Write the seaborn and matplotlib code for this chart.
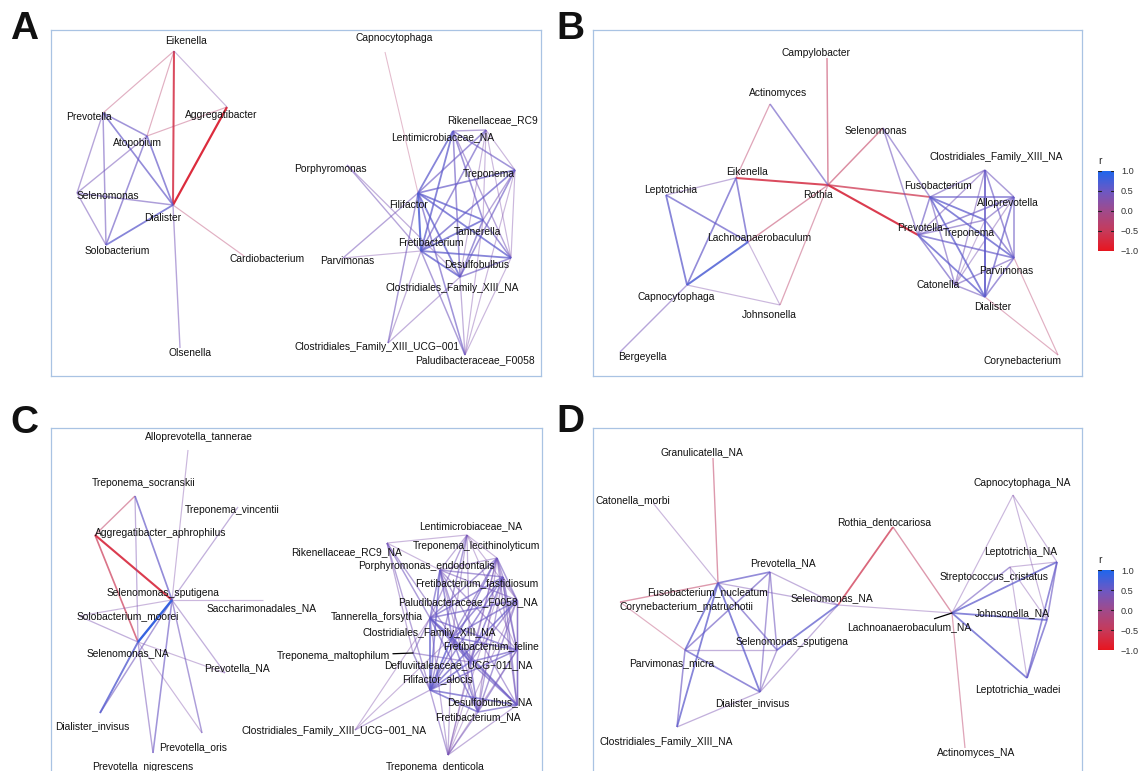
import numpy as np
import pandas as pd
import matplotlib
matplotlib.use("Agg")
import matplotlib.pyplot as plt
import seaborn as sns
from matplotlib.colors import LinearSegmentedColormap, ListedColormap, Normalize
from matplotlib.colorbar import ColorbarBase

# ---------------- Panel A : genus-level network ----------------
A_NODES = ["Eikenella", "Prevotella", "Aggregatibacter", "Atopobium", "Selenomonas", "Dialister",
           "Solobacterium", "Cardiobacterium", "Olsenella", "Capnocytophaga", "Rikenellaceae_RC9",
           "Lentimicrobiaceae_NA", "Porphyromonas", "Treponema", "Filifactor", "Tannerella",
           "Fretibacterium", "Parvimonas", "Desulfobulbus", "Clostridiales_Family_XIII_NA",
           "Clostridiales_Family_XIII_UCG\u2212001", "Paludibacteraceae_F0058"]
A_X = [123, 52, 176, 96, 26, 122, 55, 193, 129, 334, 435, 402, 296, 464, 367, 432, 370, 292, 460, 409, 337, 414]
A_Y = [21, 83, 77, 106, 163, 175, 215, 226, 318, 22, 100, 101, 135, 140, 163, 190, 221, 228, 228, 247, 313, 325]
A_LABEL_X = [135, 38, 170, 86, 57, 112, 66, 216, 139, 343, 441, 392, 279, 438, 357, 426, 380, 296, 426, 401, 326, 424]
A_LABEL_Y = [11, 87, 85, 113, 166, 188, 221, 229, 323, 8, 90, 107, 139, 144, 175, 202, 213, 231, 235, 258, 317, 330]
A_EDGES = [
    ("Eikenella", "Prevotella", -0.3), ("Eikenella", "Atopobium", -0.3), ("Eikenella", "Dialister", -0.7),
    ("Eikenella", "Aggregatibacter", 0.3), ("Aggregatibacter", "Atopobium", -0.3),
    ("Aggregatibacter", "Dialister", -0.8), ("Prevotella", "Atopobium", 0.5), ("Prevotella", "Dialister", 0.55),
    ("Prevotella", "Selenomonas", 0.4), ("Prevotella", "Solobacterium", 0.45), ("Atopobium", "Selenomonas", 0.4),
    ("Atopobium", "Solobacterium", 0.5), ("Atopobium", "Dialister", 0.55), ("Selenomonas", "Dialister", 0.45),
    ("Selenomonas", "Solobacterium", 0.4), ("Solobacterium", "Dialister", 0.6),
    ("Dialister", "Cardiobacterium", -0.3), ("Dialister", "Olsenella", 0.4),
    ("Capnocytophaga", "Filifactor", -0.25), ("Porphyromonas", "Fretibacterium", 0.4),
    ("Porphyromonas", "Clostridiales_Family_XIII_NA", 0.35),
    ("Parvimonas", "Filifactor", 0.4), ("Parvimonas", "Fretibacterium", 0.3),
    ("Filifactor", "Lentimicrobiaceae_NA", 0.6), ("Filifactor", "Rikenellaceae_RC9", 0.5),
    ("Filifactor", "Treponema", 0.55), ("Filifactor", "Tannerella", 0.6), ("Filifactor", "Fretibacterium", 0.7),
    ("Filifactor", "Desulfobulbus", 0.6), ("Filifactor", "Clostridiales_Family_XIII_NA", 0.6),
    ("Filifactor", "Clostridiales_Family_XIII_UCG\u2212001", 0.45), ("Filifactor", "Paludibacteraceae_F0058", 0.5),
    ("Fretibacterium", "Lentimicrobiaceae_NA", 0.6), ("Fretibacterium", "Rikenellaceae_RC9", 0.5),
    ("Fretibacterium", "Treponema", 0.55), ("Fretibacterium", "Tannerella", 0.6),
    ("Fretibacterium", "Desulfobulbus", 0.6), ("Fretibacterium", "Clostridiales_Family_XIII_NA", 0.6),
    ("Fretibacterium", "Clostridiales_Family_XIII_UCG\u2212001", 0.35),
    ("Fretibacterium", "Paludibacteraceae_F0058", 0.45),
    ("Lentimicrobiaceae_NA", "Treponema", 0.5), ("Lentimicrobiaceae_NA", "Tannerella", 0.5),
    ("Lentimicrobiaceae_NA", "Desulfobulbus", 0.4), ("Lentimicrobiaceae_NA", "Clostridiales_Family_XIII_NA", 0.5),
    ("Lentimicrobiaceae_NA", "Rikenellaceae_RC9", 0.4),
    ("Rikenellaceae_RC9", "Treponema", 0.3), ("Rikenellaceae_RC9", "Tannerella", 0.3),
    ("Rikenellaceae_RC9", "Desulfobulbus", 0.3), ("Rikenellaceae_RC9", "Clostridiales_Family_XIII_NA", 0.3),
    ("Treponema", "Tannerella", 0.4), ("Treponema", "Desulfobulbus", 0.3),
    ("Treponema", "Clostridiales_Family_XIII_NA", 0.5), ("Treponema", "Paludibacteraceae_F0058", 0.3),
    ("Tannerella", "Desulfobulbus", 0.5), ("Tannerella", "Clostridiales_Family_XIII_NA", 0.5),
    ("Tannerella", "Paludibacteraceae_F0058", 0.3), ("Desulfobulbus", "Clostridiales_Family_XIII_NA", 0.5),
    ("Desulfobulbus", "Paludibacteraceae_F0058", 0.3),
    ("Clostridiales_Family_XIII_NA", "Clostridiales_Family_XIII_UCG\u2212001", 0.35),
    ("Clostridiales_Family_XIII_NA", "Paludibacteraceae_F0058", 0.35),
]

# ---------------- Panel B : genus-level network ----------------
B_NODES = ["Campylobacter", "Actinomyces", "Selenomonas", "Eikenella", "Leptotrichia", "Rothia",
           "Lachnoanaerobaculum", "Capnocytophaga", "Johnsonella", "Bergeyella",
           "Clostridiales_Family_XIII_NA", "Fusobacterium", "Alloprevotella", "Prevotella", "Treponema",
           "Catonella", "Parvimonas", "Dialister", "Corynebacterium"]
B_X = [234, 177, 290, 143, 73, 235, 155, 94, 187, 27, 392, 337, 421, 325, 392, 362, 421, 392, 465]
B_Y = [28, 74, 98, 148, 165, 155, 212, 255, 275, 322, 140, 167, 167, 205, 190, 255, 228, 267, 325]
B_LABEL_X = [223, 185, 283, 154, 78, 225, 166, 83, 176, 49, 403, 345, 415, 327, 376, 345, 413, 400, 429]
B_LABEL_Y = [23, 63, 101, 142, 160, 165, 208, 267, 285, 327, 127, 156, 173, 198, 203, 255, 241, 277, 331]
B_EDGES = [
    ("Campylobacter", "Rothia", -0.45), ("Actinomyces", "Eikenella", -0.35), ("Actinomyces", "Rothia", 0.5),
    ("Selenomonas", "Rothia", -0.45), ("Eikenella", "Rothia", -0.7), ("Eikenella", "Leptotrichia", 0.35),
    ("Eikenella", "Capnocytophaga", 0.55), ("Eikenella", "Lachnoanaerobaculum", 0.55),
    ("Leptotrichia", "Lachnoanaerobaculum", 0.55), ("Leptotrichia", "Capnocytophaga", 0.6),
    ("Lachnoanaerobaculum", "Capnocytophaga", 0.7), ("Lachnoanaerobaculum", "Rothia", -0.4),
    ("Lachnoanaerobaculum", "Johnsonella", 0.3), ("Capnocytophaga", "Johnsonella", 0.3),
    ("Capnocytophaga", "Bergeyella", 0.4), ("Johnsonella", "Rothia", -0.35),
    ("Rothia", "Fusobacterium", -0.6), ("Rothia", "Prevotella", -0.75),
    ("Selenomonas", "Fusobacterium", 0.45), ("Selenomonas", "Prevotella", 0.45),
    ("Clostridiales_Family_XIII_NA", "Fusobacterium", 0.45), ("Clostridiales_Family_XIII_NA", "Alloprevotella", 0.45),
    ("Clostridiales_Family_XIII_NA", "Prevotella", 0.4), ("Clostridiales_Family_XIII_NA", "Treponema", 0.5),
    ("Clostridiales_Family_XIII_NA", "Catonella", 0.4), ("Clostridiales_Family_XIII_NA", "Parvimonas", 0.5),
    ("Clostridiales_Family_XIII_NA", "Dialister", 0.55),
    ("Fusobacterium", "Alloprevotella", 0.55), ("Fusobacterium", "Prevotella", 0.5),
    ("Fusobacterium", "Treponema", 0.6), ("Fusobacterium", "Catonella", 0.45),
    ("Fusobacterium", "Parvimonas", 0.6), ("Fusobacterium", "Dialister", 0.6),
    ("Alloprevotella", "Prevotella", 0.5), ("Alloprevotella", "Treponema", 0.45),
    ("Alloprevotella", "Catonella", 0.35), ("Alloprevotella", "Parvimonas", 0.5), ("Alloprevotella", "Dialister", 0.55),
    ("Prevotella", "Treponema", 0.45), ("Prevotella", "Catonella", 0.5), ("Prevotella", "Parvimonas", 0.55),
    ("Prevotella", "Dialister", 0.6), ("Treponema", "Catonella", 0.3), ("Treponema", "Parvimonas", 0.5),
    ("Treponema", "Dialister", 0.6), ("Catonella", "Parvimonas", 0.45), ("Catonella", "Dialister", 0.45),
    ("Parvimonas", "Dialister", 0.5), ("Corynebacterium", "Dialister", -0.3), ("Corynebacterium", "Parvimonas", -0.3),
]

# ---------------- Panel C : species-level network ----------------
C_NODES = ["Alloprevotella_tannerae", "Treponema_socranskii", "Treponema_vincentii",
           "Aggregatibacter_aphrophilus", "Selenomonas_sputigena", "Saccharimonadales_NA",
           "Solobacterium_moorei", "Selenomonas_NA", "Prevotella_NA", "Dialister_invisus", "Prevotella_oris",
           "Prevotella_nigrescens", "Lentimicrobiaceae_NA", "Treponema_lecithinolyticum", "Rikenellaceae_RC9_NA",
           "Porphyromonas_endodontalis", "Fretibacterium_fastidiosum", "Paludibacteraceae_F0058_NA",
           "Tannerella_forsythia", "Clostridiales_Family_XIII_NA", "Fretibacterium_feline",
           "Treponema_maltophilum", "Defluviitaleaceae_UCG\u2212011_NA", "Filifactor_alocis", "Desulfobulbus_NA",
           "Fretibacterium_NA", "Clostridiales_Family_XIII_UCG\u2212001_NA", "Treponema_denticola"]
C_X = [137, 84, 187, 44, 121, 212, 28, 87, 174, 49, 151, 102,
       416, 446, 336, 389, 452, 466, 379, 401, 466, 362, 419, 379, 466, 427, 304, 397]
C_Y = [22, 68, 79, 107, 172, 172, 188, 214, 245, 285, 305, 325,
       107, 130, 115, 142, 149, 172, 190, 209, 222, 225, 234, 262, 277, 284, 302, 327]
C_LABEL_X = [148, 93, 181, 110, 112, 211, 77, 77, 186, 41, 142, 92,
             420, 425, 296, 375, 426, 417, 326, 378, 440, 282, 407, 387, 439, 427, 283, 384]
C_LABEL_Y = [9, 55, 82, 105, 165, 180, 188, 225, 240, 298, 319, 339,
             98, 118, 124, 138, 155, 174, 189, 205, 218, 228, 237, 251, 274, 289, 303, 339]
C_LINKED = ["Treponema_maltophilum"]
C_EDGES = [
    ("Alloprevotella_tannerae", "Selenomonas_sputigena", 0.3),
    ("Treponema_socranskii", "Aggregatibacter_aphrophilus", -0.4),
    ("Treponema_socranskii", "Selenomonas_sputigena", 0.55), ("Treponema_socranskii", "Selenomonas_NA", 0.35),
    ("Treponema_vincentii", "Selenomonas_sputigena", 0.35),
    ("Aggregatibacter_aphrophilus", "Selenomonas_sputigena", -0.75),
    ("Aggregatibacter_aphrophilus", "Selenomonas_NA", -0.55),
    ("Selenomonas_sputigena", "Saccharimonadales_NA", 0.3), ("Selenomonas_sputigena", "Solobacterium_moorei", 0.3),
    ("Selenomonas_sputigena", "Selenomonas_NA", 0.85), ("Selenomonas_sputigena", "Prevotella_NA", 0.35),
    ("Selenomonas_sputigena", "Dialister_invisus", 0.45), ("Selenomonas_sputigena", "Prevotella_oris", 0.45),
    ("Selenomonas_sputigena", "Prevotella_nigrescens", 0.5), ("Solobacterium_moorei", "Selenomonas_NA", 0.35),
    ("Selenomonas_NA", "Prevotella_NA", 0.3), ("Selenomonas_NA", "Dialister_invisus", 0.65),
    ("Selenomonas_NA", "Prevotella_oris", 0.3), ("Selenomonas_NA", "Prevotella_nigrescens", 0.4),
    ("Rikenellaceae_RC9_NA", "Lentimicrobiaceae_NA", 0.3), ("Rikenellaceae_RC9_NA", "Tannerella_forsythia", 0.45),
    ("Rikenellaceae_RC9_NA", "Filifactor_alocis", 0.4), ("Rikenellaceae_RC9_NA", "Clostridiales_Family_XIII_NA", 0.4),
    ("Rikenellaceae_RC9_NA", "Treponema_maltophilum", 0.35), ("Rikenellaceae_RC9_NA", "Porphyromonas_endodontalis", 0.3),
    ("Lentimicrobiaceae_NA", "Treponema_lecithinolyticum", 0.3),
    ("Lentimicrobiaceae_NA", "Porphyromonas_endodontalis", 0.35), ("Lentimicrobiaceae_NA", "Tannerella_forsythia", 0.4),
    ("Lentimicrobiaceae_NA", "Filifactor_alocis", 0.45), ("Lentimicrobiaceae_NA", "Clostridiales_Family_XIII_NA", 0.35),
    ("Lentimicrobiaceae_NA", "Defluviitaleaceae_UCG\u2212011_NA", 0.35),
    ("Lentimicrobiaceae_NA", "Fretibacterium_feline", 0.3), ("Lentimicrobiaceae_NA", "Paludibacteraceae_F0058_NA", 0.3),
    ("Treponema_lecithinolyticum", "Fretibacterium_fastidiosum", 0.4),
    ("Treponema_lecithinolyticum", "Paludibacteraceae_F0058_NA", 0.45),
    ("Treponema_lecithinolyticum", "Tannerella_forsythia", 0.45),
    ("Treponema_lecithinolyticum", "Filifactor_alocis", 0.5),
    ("Treponema_lecithinolyticum", "Clostridiales_Family_XIII_NA", 0.45),
    ("Treponema_lecithinolyticum", "Fretibacterium_feline", 0.4),
    ("Treponema_lecithinolyticum", "Defluviitaleaceae_UCG\u2212011_NA", 0.4),
    ("Treponema_lecithinolyticum", "Desulfobulbus_NA", 0.4), ("Treponema_lecithinolyticum", "Fretibacterium_NA", 0.35),
    ("Treponema_lecithinolyticum", "Treponema_denticola", 0.3),
    ("Treponema_lecithinolyticum", "Porphyromonas_endodontalis", 0.35),
    ("Fretibacterium_fastidiosum", "Paludibacteraceae_F0058_NA", 0.4),
    ("Fretibacterium_fastidiosum", "Tannerella_forsythia", 0.5), ("Fretibacterium_fastidiosum", "Filifactor_alocis", 0.5),
    ("Fretibacterium_fastidiosum", "Clostridiales_Family_XIII_NA", 0.5),
    ("Fretibacterium_fastidiosum", "Fretibacterium_feline", 0.45),
    ("Fretibacterium_fastidiosum", "Defluviitaleaceae_UCG\u2212011_NA", 0.5),
    ("Fretibacterium_fastidiosum", "Desulfobulbus_NA", 0.45), ("Fretibacterium_fastidiosum", "Fretibacterium_NA", 0.4),
    ("Fretibacterium_fastidiosum", "Treponema_denticola", 0.3),
    ("Fretibacterium_fastidiosum", "Porphyromonas_endodontalis", 0.45),
    ("Paludibacteraceae_F0058_NA", "Tannerella_forsythia", 0.5), ("Paludibacteraceae_F0058_NA", "Filifactor_alocis", 0.55),
    ("Paludibacteraceae_F0058_NA", "Clostridiales_Family_XIII_NA", 0.5),
    ("Paludibacteraceae_F0058_NA", "Fretibacterium_feline", 0.4),
    ("Paludibacteraceae_F0058_NA", "Defluviitaleaceae_UCG\u2212011_NA", 0.45),
    ("Paludibacteraceae_F0058_NA", "Desulfobulbus_NA", 0.45), ("Paludibacteraceae_F0058_NA", "Fretibacterium_NA", 0.45),
    ("Paludibacteraceae_F0058_NA", "Treponema_denticola", 0.3),
    ("Paludibacteraceae_F0058_NA", "Porphyromonas_endodontalis", 0.4),
    ("Porphyromonas_endodontalis", "Tannerella_forsythia", 0.5), ("Porphyromonas_endodontalis", "Filifactor_alocis", 0.55),
    ("Porphyromonas_endodontalis", "Clostridiales_Family_XIII_NA", 0.5),
    ("Porphyromonas_endodontalis", "Defluviitaleaceae_UCG\u2212011_NA", 0.45),
    ("Porphyromonas_endodontalis", "Fretibacterium_feline", 0.4),
    ("Porphyromonas_endodontalis", "Desulfobulbus_NA", 0.4), ("Porphyromonas_endodontalis", "Fretibacterium_NA", 0.35),
    ("Tannerella_forsythia", "Clostridiales_Family_XIII_NA", 0.55), ("Tannerella_forsythia", "Filifactor_alocis", 0.6),
    ("Tannerella_forsythia", "Defluviitaleaceae_UCG\u2212011_NA", 0.5), ("Tannerella_forsythia", "Fretibacterium_feline", 0.5),
    ("Tannerella_forsythia", "Desulfobulbus_NA", 0.5), ("Tannerella_forsythia", "Fretibacterium_NA", 0.5),
    ("Tannerella_forsythia", "Treponema_maltophilum", 0.4), ("Tannerella_forsythia", "Treponema_denticola", 0.35),
    ("Tannerella_forsythia", "Clostridiales_Family_XIII_UCG\u2212001_NA", 0.3),
    ("Clostridiales_Family_XIII_NA", "Filifactor_alocis", 0.6),
    ("Clostridiales_Family_XIII_NA", "Defluviitaleaceae_UCG\u2212011_NA", 0.55),
    ("Clostridiales_Family_XIII_NA", "Fretibacterium_feline", 0.5),
    ("Clostridiales_Family_XIII_NA", "Desulfobulbus_NA", 0.5), ("Clostridiales_Family_XIII_NA", "Fretibacterium_NA", 0.5),
    ("Clostridiales_Family_XIII_NA", "Treponema_denticola", 0.35),
    ("Clostridiales_Family_XIII_NA", "Clostridiales_Family_XIII_UCG\u2212001_NA", 0.3),
    ("Fretibacterium_feline", "Defluviitaleaceae_UCG\u2212011_NA", 0.5), ("Fretibacterium_feline", "Filifactor_alocis", 0.5),
    ("Fretibacterium_feline", "Desulfobulbus_NA", 0.45), ("Fretibacterium_feline", "Fretibacterium_NA", 0.45),
    ("Fretibacterium_feline", "Treponema_denticola", 0.3),
    ("Treponema_maltophilum", "Filifactor_alocis", 0.45),
    ("Treponema_maltophilum", "Defluviitaleaceae_UCG\u2212011_NA", 0.4),
    ("Defluviitaleaceae_UCG\u2212011_NA", "Filifactor_alocis", 0.55),
    ("Defluviitaleaceae_UCG\u2212011_NA", "Desulfobulbus_NA", 0.5),
    ("Defluviitaleaceae_UCG\u2212011_NA", "Fretibacterium_NA", 0.5),
    ("Defluviitaleaceae_UCG\u2212011_NA", "Treponema_denticola", 0.35),
    ("Filifactor_alocis", "Desulfobulbus_NA", 0.55), ("Filifactor_alocis", "Fretibacterium_NA", 0.55),
    ("Filifactor_alocis", "Treponema_denticola", 0.4), ("Filifactor_alocis", "Clostridiales_Family_XIII_UCG\u2212001_NA", 0.35),
    ("Desulfobulbus_NA", "Fretibacterium_NA", 0.5), ("Desulfobulbus_NA", "Treponema_denticola", 0.35),
    ("Fretibacterium_NA", "Treponema_denticola", 0.4),
]

# ---------------- Panel D : species-level network ----------------
D_NODES = ["Granulicatella_NA", "Catonella_morbi", "Prevotella_NA", "Fusobacterium_nucleatum",
           "Corynebacterium_matruchotii", "Selenomonas_NA", "Rothia_dentocariosa", "Selenomonas_sputigena",
           "Parvimonas_micra", "Dialister_invisus", "Clostridiales_Family_XIII_NA", "Capnocytophaga_NA",
           "Leptotrichia_NA", "Streptococcus_cristatus", "Johnsonella_NA", "Lachnoanaerobaculum_NA",
           "Leptotrichia_wadei", "Actinomyces_NA"]
D_X = [120, 60, 177, 125, 27, 245, 300, 184, 92, 167, 84, 420, 464, 417, 454, 359, 434, 372]
D_Y = [30, 75, 144, 155, 174, 177, 99, 222, 222, 264, 299, 67, 134, 139, 192, 185, 250, 320]
D_LABEL_X = [109, 40, 190, 115, 93, 239, 291, 199, 79, 159, 73, 429, 428, 401, 419, 316, 425, 383]
D_LABEL_Y = [24, 72, 135, 164, 179, 170, 94, 214, 235, 275, 314, 55, 124, 149, 185, 199, 262, 325]
D_LINKED = ["Lachnoanaerobaculum_NA"]
D_EDGES = [
    ("Granulicatella_NA", "Fusobacterium_nucleatum", -0.4), ("Catonella_morbi", "Fusobacterium_nucleatum", 0.3),
    ("Fusobacterium_nucleatum", "Prevotella_NA", 0.55), ("Fusobacterium_nucleatum", "Corynebacterium_matruchotii", -0.4),
    ("Fusobacterium_nucleatum", "Selenomonas_NA", 0.35), ("Fusobacterium_nucleatum", "Parvimonas_micra", 0.6),
    ("Fusobacterium_nucleatum", "Dialister_invisus", 0.6), ("Fusobacterium_nucleatum", "Selenomonas_sputigena", 0.5),
    ("Fusobacterium_nucleatum", "Clostridiales_Family_XIII_NA", 0.6),
    ("Prevotella_NA", "Parvimonas_micra", 0.5), ("Prevotella_NA", "Selenomonas_sputigena", 0.45),
    ("Prevotella_NA", "Dialister_invisus", 0.45), ("Prevotella_NA", "Selenomonas_NA", 0.35),
    ("Corynebacterium_matruchotii", "Parvimonas_micra", -0.3), ("Parvimonas_micra", "Selenomonas_sputigena", 0.35),
    ("Parvimonas_micra", "Dialister_invisus", 0.55), ("Parvimonas_micra", "Clostridiales_Family_XIII_NA", 0.5),
    ("Selenomonas_NA", "Selenomonas_sputigena", 0.6), ("Selenomonas_NA", "Dialister_invisus", 0.35),
    ("Selenomonas_sputigena", "Dialister_invisus", 0.4), ("Dialister_invisus", "Clostridiales_Family_XIII_NA", 0.35),
    ("Selenomonas_NA", "Rothia_dentocariosa", -0.6), ("Selenomonas_NA", "Lachnoanaerobaculum_NA", 0.3),
    ("Rothia_dentocariosa", "Lachnoanaerobaculum_NA", -0.4), ("Lachnoanaerobaculum_NA", "Actinomyces_NA", -0.35),
    ("Lachnoanaerobaculum_NA", "Capnocytophaga_NA", 0.3), ("Lachnoanaerobaculum_NA", "Streptococcus_cristatus", 0.45),
    ("Lachnoanaerobaculum_NA", "Leptotrichia_NA", 0.6), ("Lachnoanaerobaculum_NA", "Johnsonella_NA", 0.6),
    ("Lachnoanaerobaculum_NA", "Leptotrichia_wadei", 0.6), ("Capnocytophaga_NA", "Leptotrichia_NA", 0.3),
    ("Capnocytophaga_NA", "Johnsonella_NA", 0.3), ("Streptococcus_cristatus", "Leptotrichia_NA", 0.3),
    ("Streptococcus_cristatus", "Johnsonella_NA", 0.3), ("Streptococcus_cristatus", "Leptotrichia_wadei", 0.3),
    ("Leptotrichia_NA", "Johnsonella_NA", 0.5), ("Leptotrichia_NA", "Leptotrichia_wadei", 0.55),
    ("Johnsonella_NA", "Leptotrichia_wadei", 0.55),
]

# ---------------- styling ----------------
sns.set_style("white")
plt.rcParams["font.family"] = ["Liberation Sans", "DejaVu Sans"]

W_PX, H_PX = 1147, 771
LABEL_SIZE = 7.4
BOX_COLOR = "#a9c3e3"

# correlation colour scale (red = negative, blue = positive)
r_cmap = LinearSegmentedColormap.from_list(
    "r_scale", ["#E8151F", "#C63A5A", "#A04A8B", "#6C58C4", "#1F66EC"])
_vals = np.linspace(-1, 1, 256)
_rgba = r_cmap((_vals + 1) / 2)
_rgba[:, 3] = np.clip(0.08 + 1.1 * np.abs(_vals), 0, 1)   # weaker correlations fade out
edge_cmap = ListedColormap(_rgba)

fig = plt.figure(figsize=(W_PX / 100, H_PX / 100), dpi=100)


def panel_axes(left, top, width, height):
    ax = fig.add_axes([left / W_PX, 1 - (top + height) / H_PX, width / W_PX, height / H_PX])
    ax.set_xlim(0, width)
    ax.set_ylim(height, 0)
    return ax


def draw_network(ax, names, xs, ys, lxs, lys, edges, linked=()):
    pos = {n: (x, y) for n, x, y in zip(names, xs, ys)}
    rows = []
    for i, (a, b, r) in enumerate(edges):
        for n in (a, b):
            rows.append({"edge": i, "x": pos[n][0], "y": pos[n][1], "r": r, "strength": abs(r)})
    df = pd.DataFrame(rows)
    sns.lineplot(data=df, x="x", y="y", units="edge", estimator=None, sort=False,
                 hue="r", hue_norm=(-1, 1), palette=edge_cmap,
                 size="strength", size_norm=(0, 1), sizes=(0.4, 1.9),
                 legend=False, ax=ax)
    for line in ax.get_lines():
        line.set_solid_capstyle("butt")
    for n, lx, ly in zip(names, lxs, lys):
        if n in linked:
            ax.annotate(n, xy=pos[n], xytext=(lx, ly), ha="center", va="center",
                        fontsize=LABEL_SIZE, color="#111111",
                        arrowprops=dict(arrowstyle="-", color="black", lw=0.9, shrinkA=0, shrinkB=0))
        else:
            ax.text(lx, ly, n, ha="center", va="center", fontsize=LABEL_SIZE, color="#111111")
    ax.set_xticks([])
    ax.set_yticks([])
    ax.set_xlabel("")
    ax.set_ylabel("")
    for sp in ax.spines.values():
        sp.set_visible(True)
        sp.set_color(BOX_COLOR)
        sp.set_linewidth(0.9)


def draw_colorbar(left, top):
    cax = fig.add_axes([left / W_PX, 1 - (top + 80) / H_PX, 16 / W_PX, 80 / H_PX])
    ticks = [-1.0, -0.5, 0.0, 0.5, 1.0]
    cb = ColorbarBase(cax, cmap=r_cmap, norm=Normalize(-1, 1), ticks=ticks)
    cb.outline.set_visible(False)
    cb.set_ticklabels(["\u22121.0", "\u22120.5", "0.0", "0.5", "1.0"])
    cax.tick_params(length=0, pad=5, labelsize=6.6, labelcolor="#333333")
    for t in ticks:
        cax.plot([0, 0.2], [t, t], color="#222222", lw=0.8, transform=cax.get_yaxis_transform())
        cax.plot([0.8, 1], [t, t], color="#222222", lw=0.8, transform=cax.get_yaxis_transform())
    cax.text(0, 1.06, "r", transform=cax.transAxes, ha="left", va="bottom",
             fontsize=7.4, color="#222222")


ax_a = panel_axes(51, 30, 490, 346)
draw_network(ax_a, A_NODES, A_X, A_Y, A_LABEL_X, A_LABEL_Y, A_EDGES)

ax_b = panel_axes(593, 30, 489, 346)
draw_network(ax_b, B_NODES, B_X, B_Y, B_LABEL_X, B_LABEL_Y, B_EDGES)

ax_c = panel_axes(51, 428, 491, 346)
draw_network(ax_c, C_NODES, C_X, C_Y, C_LABEL_X, C_LABEL_Y, C_EDGES, C_LINKED)

ax_d = panel_axes(593, 428, 489, 346)
draw_network(ax_d, D_NODES, D_X, D_Y, D_LABEL_X, D_LABEL_Y, D_EDGES, D_LINKED)

draw_colorbar(1098, 171)
draw_colorbar(1098, 570)

for letter, x, y in [("A", 10, 39), ("B", 556, 39), ("C", 10, 433), ("D", 556, 432)]:
    fig.text(x / W_PX, 1 - y / H_PX, letter, fontsize=28, fontweight="bold",
             ha="left", va="baseline", color="#111111")

fig.savefig("out.png", dpi=100)
